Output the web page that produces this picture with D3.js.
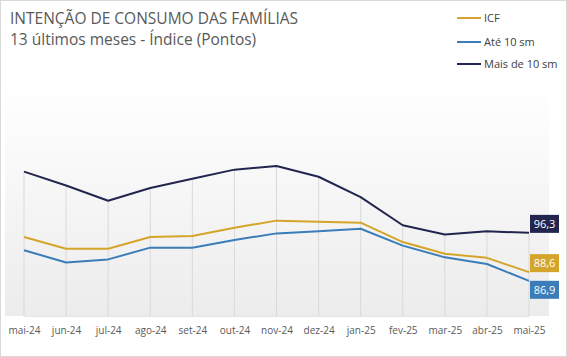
<!DOCTYPE html>
<html>
<head>
<meta charset="utf-8">
<script src="https://cdn.jsdelivr.net/npm/d3@7/dist/d3.min.js"></script>
<style>
  html, body { margin: 0; padding: 0; background: #ffffff; }
  svg { display: block; }
  text { font-family: "Open Sans", "Noto Sans", sans-serif; }
</style>
</head>
<body>
<svg id="chart" width="567" height="357"></svg>
<script>
const categories = ["mai-24","jun-24","jul-24","ago-24","set-24","out-24","nov-24","dez-24","jan-25","fev-25","mar-25","abr-25","mai-25"];
const icf        = [95.5, 93.2, 93.2, 95.5, 95.7, 97.3, 98.7, 98.5, 98.3, 94.5, 92.2, 91.4, 88.6];
const ate10      = [92.9, 90.5, 91.1, 93.4, 93.4, 94.9, 96.2, 96.6, 97.1, 93.8, 91.5, 90.2, 86.9];
const mais10     = [108.3, 105.6, 102.6, 105.1, 106.9, 108.7, 109.4, 107.3, 103.3, 97.8, 96.0, 96.6, 96.3];
const seriesNames = ["ICF", "Até 10 sm", "Mais de 10 sm"];
const yDomain = [80, 120];

const colors = { "ICF": "#D4A52A", "Até 10 sm": "#3A7DB8", "Mais de 10 sm": "#22264E" };
const series = [
  { name: seriesNames[0], values: icf },
  { name: seriesNames[1], values: ate10 },
  { name: seriesNames[2], values: mais10 }
];

const svg = d3.select("#chart");
const W = 567, H = 357;

// outer border
svg.append("rect").attr("x", 0.5).attr("y", 0.5).attr("width", W - 1).attr("height", H - 1)
  .attr("fill", "#ffffff").attr("stroke", "#d9d9d9");

// plot background gradient
const defs = svg.append("defs");
const grad = defs.append("linearGradient").attr("id", "bg").attr("x1", 0).attr("y1", 0).attr("x2", 0).attr("y2", 1);
grad.append("stop").attr("offset", "0%").attr("stop-color", "#ffffff");
grad.append("stop").attr("offset", "100%").attr("stop-color", "#ececec");

const plot = { left: 5, right: 549, top: 85, bottom: 316 };
svg.append("rect").attr("x", plot.left).attr("y", plot.top)
  .attr("width", plot.right - plot.left).attr("height", plot.bottom - plot.top)
  .attr("fill", "url(#bg)");

const x = d3.scalePoint().domain(categories).range([24, 529]);
const y = d3.scaleLinear().domain(yDomain).range([316, 112]);

// drop lines from the highest series to the bottom
const maxVals = categories.map((c, i) => d3.max(series, s => s.values[i]));
svg.append("g").selectAll("line").data(categories).join("line")
  .attr("x1", d => x(d)).attr("x2", d => x(d))
  .attr("y1", (d, i) => y(maxVals[i])).attr("y2", plot.bottom)
  .attr("stroke", "#d9d9d9").attr("stroke-width", 1);

// x axis
const xAxis = svg.append("g").attr("transform", `translate(0,${plot.bottom})`)
  .call(d3.axisBottom(x).tickSize(0).tickPadding(11));
xAxis.select(".domain").attr("stroke", "#e3e3e3");
xAxis.selectAll("text").attr("fill", "#595959").style("font-size", "10px")
  .style("font-family", "'Open Sans', sans-serif");

// lines
const line = d3.line().x((d, i) => x(categories[i])).y(d => y(d));
svg.append("g").selectAll("path").data(series).join("path")
  .attr("d", d => line(d.values))
  .attr("fill", "none")
  .attr("stroke", d => colors[d.name])
  .attr("stroke-width", 2)
  .attr("stroke-linejoin", "round");

// end labels
const last = categories.length - 1;
const labelOffsets = { "ICF": -9, "Até 10 sm": 9, "Mais de 10 sm": -9 };
const lbl = svg.append("g").selectAll("g").data(series).join("g")
  .attr("transform", d => `translate(${x(categories[last]) + 1},${y(d.values[last]) + labelOffsets[d.name]})`);
lbl.append("rect").attr("x", 0).attr("y", -9).attr("width", 29).attr("height", 18)
  .attr("fill", d => colors[d.name]);
lbl.append("text").attr("x", 14.5).attr("y", 4)
  .attr("text-anchor", "middle").attr("fill", "#ffffff").style("font-size", "11px")
  .text(d => d3.format(".1f")(d.values[last]).replace(".", ","));

// title
svg.append("text").attr("x", 10).attr("y", 24).attr("fill", "#595959")
  .style("font-size", "15.5px").text("INTENÇÃO DE CONSUMO DAS FAMÍLIAS");
svg.append("text").attr("x", 10).attr("y", 45).attr("fill", "#595959")
  .style("font-size", "15.5px").text("13 últimos meses - Índice (Pontos)");

// legend
const legendY = [18, 42, 64];
const leg = svg.append("g").selectAll("g").data(series).join("g")
  .attr("transform", (d, i) => `translate(457,${legendY[i]})`);
leg.append("line").attr("x1", 0).attr("x2", 24).attr("y1", 0).attr("y2", 0)
  .attr("stroke", d => colors[d.name]).attr("stroke-width", 2);
leg.append("text").attr("x", 27).attr("y", 4).attr("fill", "#404040")
  .style("font-size", "11px").text(d => d.name);
</script>
</body>
</html>
